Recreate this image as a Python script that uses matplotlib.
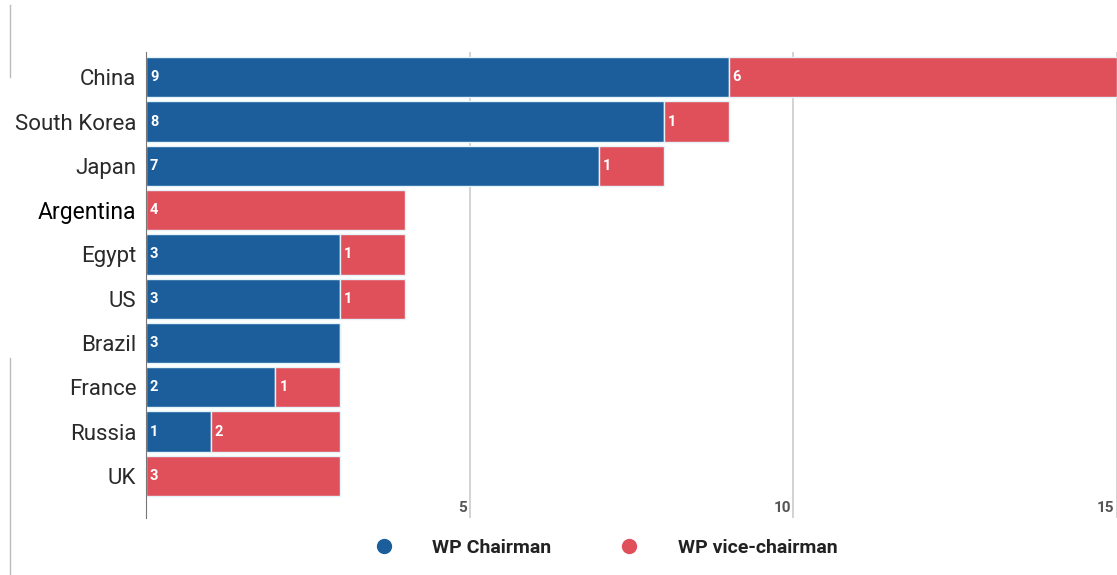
import numpy as np
import matplotlib.pyplot as plt
from matplotlib.lines import Line2D

# participación por país en los grupos de trabajo
paises = ["China", "South Korea", "Japan", "Argentina", "Egypt", "US",
          "Brazil", "France", "Russia", "UK"]
presidente = [9, 8, 7, 0, 3, 3, 3, 2, 1, 0]
vicepresidente = [6, 1, 1, 4, 1, 1, 0, 1, 2, 3]
marcas_x = [5, 10, 15]

azul = '#1b5e9b'
rojo = '#e0505a'

plt.rcParams['font.family'] = ['Roboto', 'DejaVu Sans']

fig = plt.figure(figsize=(11.17, 5.75), dpi=100)
ax = fig.add_axes([146 / 1117, 1 - 518 / 575, 1 - 146 / 1117, 466 / 575])

y = np.arange(len(paises))
ax.barh(y, presidente, height=0.91, color=azul, edgecolor='#e4f3f9', linewidth=1, zorder=2)
ax.barh(y, vicepresidente, left=presidente, height=0.91, color=rojo,
        edgecolor='#e4f3f9', linewidth=1, zorder=2)

# números dentro de cada tramo
for i in range(len(paises)):
    if presidente[i] > 0:
        ax.text(0.06, y[i], str(presidente[i]), color='white', fontsize=10.5,
                fontweight='bold', va='center', ha='left', zorder=3)
    if vicepresidente[i] > 0:
        ax.text(presidente[i] + 0.06, y[i], str(vicepresidente[i]), color='white',
                fontsize=10.5, fontweight='bold', va='center', ha='left', zorder=3)

ax.set_xlim(0, 15)
ax.set_ylim(9.95, -0.57)

for m in marcas_x:
    ax.axvline(m, color='#cccccc', linewidth=1.2, zorder=1)
    ax.text(m - 0.04, 9.72, str(m), color='#555555', fontsize=11,
            fontweight='bold', ha='right', va='center')

ax.set_yticks(y)
ax.set_yticklabels(paises, fontsize=16, color='#2a2a2a')
for etiqueta in ax.get_yticklabels():
    if etiqueta.get_text() == "Argentina":
        etiqueta.set_color('#000000')
        etiqueta.set_fontsize(16.5)
ax.tick_params(axis='y', length=0, pad=7)
ax.set_xticks([])

for lado in ['top', 'right', 'bottom']:
    ax.spines[lado].set_visible(False)
ax.spines['left'].set_color('#777777')
ax.spines['left'].set_linewidth(0.8)

# línea gris fina a la izquierda
fig.add_artist(Line2D([10 / 1117, 10 / 1117], [1 - 5 / 575, 1 - 77 / 575],
                      color='#bbbbbb', linewidth=1))
fig.add_artist(Line2D([10 / 1117, 10 / 1117], [1 - 358 / 575, 0],
                      color='#bbbbbb', linewidth=1))

manejadores = [
    Line2D([], [], marker='o', linestyle='none', markersize=10, color=azul),
    Line2D([], [], marker='o', linestyle='none', markersize=10, color=rojo),
]
fig.legend(manejadores, ["WP Chairman", "WP vice-chairman"], ncol=2,
           loc='center', bbox_to_anchor=(601 / 1117, 1 - 548 / 575),
           frameon=False, handletextpad=1.5, columnspacing=3.0,
           prop={'size': 14, 'weight': 'bold'}, labelcolor='#222222')

fig.savefig('out.png', dpi=100)
